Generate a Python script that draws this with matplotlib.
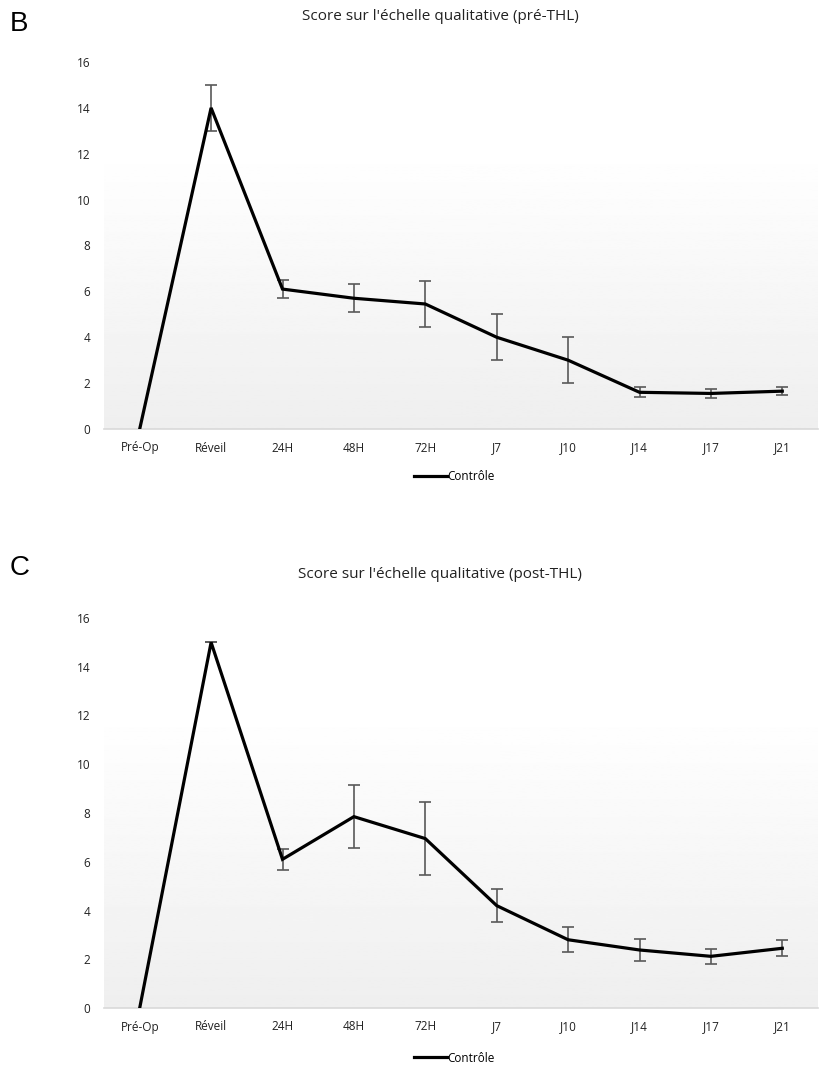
import numpy as np
import matplotlib
matplotlib.use("Agg")
import matplotlib.pyplot as plt
from matplotlib.lines import Line2D

plt.rcParams['font.family'] = ['Open Sans', 'DejaVu Sans']

categories = ["Pré-Op", "Réveil", "24H", "48H", "72H", "J7", "J10", "J14", "J17", "J21"]

pre_mean = [0, 14.0, 6.1, 5.7, 5.45, 4.0, 3.0, 1.6, 1.55, 1.65]
pre_err = [0, 1.0, 0.4, 0.6, 1.0, 1.0, 1.0, 0.22, 0.18, 0.18]

post_mean = [0, 15.0, 6.1, 7.85, 6.95, 4.2, 2.8, 2.38, 2.12, 2.45]
post_err = [0, 0.0, 0.42, 1.3, 1.5, 0.68, 0.52, 0.45, 0.32, 0.32]

panels = [("B", "Score sur l'échelle qualitative (pré-THL)", pre_mean, pre_err),
          ("C", "Score sur l'échelle qualitative (post-THL)", post_mean, post_err)]

W, H = 819, 1068
fig = plt.figure(figsize=(W / 100, H / 100), dpi=100)

# axes boxes in pixels: (left, top, right, bottom)
boxes = [(104, 62, 818, 429), (104, 618, 818, 1008)]
letter_y = [24, 568]
title_y = [16, 574]
legend_y = [477, 1058]

grad = np.concatenate([np.ones(60), np.linspace(1.0, 0.935, 196)]).reshape(-1, 1)

for i, (letter, title, mean, err) in enumerate(panels):
    l, t, r, b = boxes[i]
    ax = fig.add_axes([l / W, 1 - b / H, (r - l) / W, (b - t) / H])
    x = np.arange(len(categories))
    ax.imshow(grad, cmap='gray', vmin=0, vmax=1, aspect='auto',
              extent=[-0.5, len(categories) - 0.5, 0, 16], zorder=0)
    ax.errorbar(x[1:], mean[1:], yerr=err[1:], fmt='none', ecolor='#595959',
                elinewidth=1.2, capsize=4.5, capthick=1.2, zorder=2)
    ax.plot(x, mean, color='black', lw=2.3, zorder=3, solid_joinstyle='miter')
    ax.set_xlim(-0.5, len(categories) - 0.5)
    ax.set_ylim(0, 16)
    ax.set_yticks(range(0, 17, 2))
    ax.set_xticks(x)
    ax.set_xticklabels(categories)
    ax.tick_params(length=0, labelsize=8.5, colors='#222222')
    ax.tick_params(axis='x', pad=9)
    ax.tick_params(axis='y', pad=10)
    for s in ['top', 'right', 'left']:
        ax.spines[s].set_visible(False)
    ax.spines['bottom'].set_color('#d9d9d9')
    ax.spines['bottom'].set_linewidth(1.2)

    fig.text(440 / W, 1 - title_y[i] / H, title, ha='center', va='center',
             fontsize=11, color='#222222')
    fig.text(10 / W, 1 - letter_y[i] / H, letter, ha='left', va='center',
             fontsize=20, color='black', family=['Liberation Sans', 'DejaVu Sans'])
    handle = Line2D([], [], color='black', lw=2.3)
    fig.legend([handle], ["Contrôle"], loc='center', bbox_to_anchor=(454 / W, 1 - legend_y[i] / H),
               frameon=False, fontsize=8.5, handlelength=2.8, handletextpad=0.0)

fig.savefig("out.png", dpi=100)
